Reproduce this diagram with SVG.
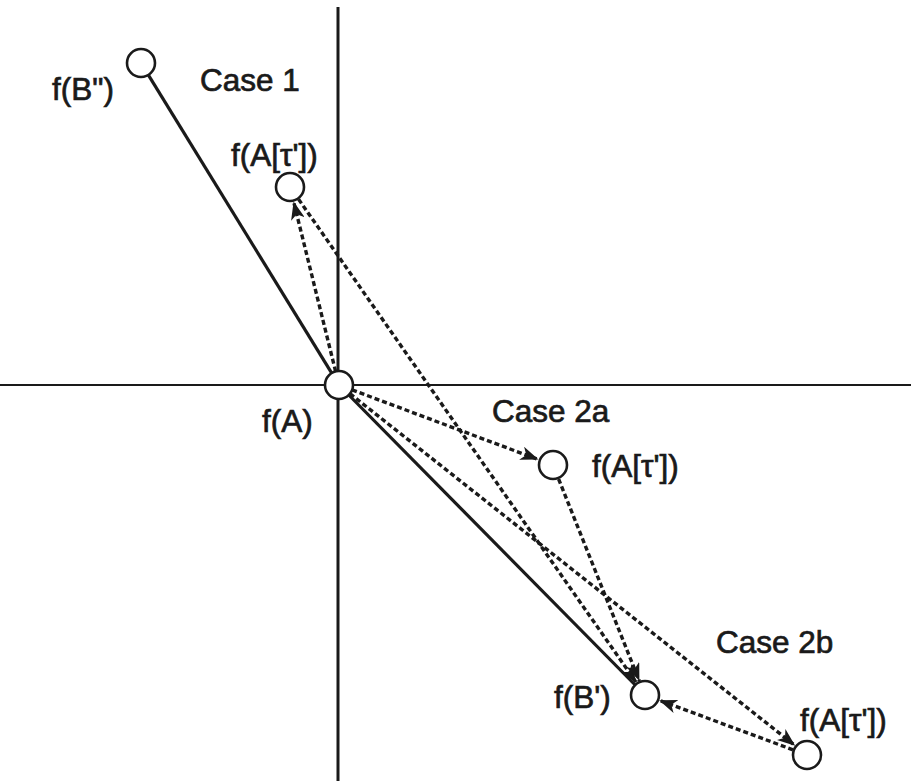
<svg xmlns="http://www.w3.org/2000/svg" width="911" height="781" viewBox="0 0 911 781">
<style>
text{font-family:"Liberation Sans",Arial,sans-serif;font-size:31.5px;fill:#1a1a1a;stroke:#1a1a1a;stroke-width:0.7}
.axis{stroke:#1a1a1a;fill:none}
.solid{stroke:#1a1a1a;stroke-width:3.2;fill:none}
.dash{stroke:#1a1a1a;stroke-width:3.4;stroke-dasharray:5 3;fill:none;marker-end:url(#ah)}
.node{fill:#fff;stroke:#1a1a1a;stroke-width:2.6}
</style>
<defs>
<marker id="ah" markerUnits="userSpaceOnUse" markerWidth="20" markerHeight="14" refX="18" refY="7" orient="auto">
<path d="M0,0 L18,7 L0,14 L5,7 z" fill="#1a1a1a"/>
</marker>
</defs>
<rect width="911" height="781" fill="#fff"/>
<g id="axes">
<line class="axis" x1="338" y1="7" x2="338" y2="781" stroke-width="3"/>
<line class="axis" x1="0" y1="385" x2="911" y2="385" stroke-width="2"/>
</g>
<g id="connectors">
<line class="solid" x1="148.3" y1="74.9" x2="331.7" y2="373.1"/>
<line class="solid" x1="348.8" y1="395" x2="635.2" y2="685"/>
<line class="dash" x1="335.6" y1="371.4" x2="293.6" y2="201.6"/>
<line class="dash" x1="298.6" y1="199.3" x2="636.4" y2="682.7"/>
<line class="dash" x1="352.1" y1="389.9" x2="538.5" y2="459.6"/>
<line class="dash" x1="558.6" y1="479" x2="639.4" y2="681.1"/>
<line class="dash" x1="350" y1="393.7" x2="795.2" y2="745.7"/>
<line class="dash" x1="793" y1="749.8" x2="659.1" y2="700.2"/>
</g>
<g id="node-fBpp"><circle class="node" cx="141" cy="63" r="14"/><text x="52" y="100">f(B")</text></g>
<g id="node-case1"><circle class="node" cx="290" cy="187" r="14"/><text x="231" y="166">f(A[τ'])</text></g>
<g id="node-fA"><circle class="node" cx="339" cy="385" r="14"/><text x="262" y="432">f(A)</text></g>
<g id="node-case2a"><circle class="node" cx="553" cy="465" r="14"/><text x="592" y="477">f(A[τ'])</text></g>
<g id="node-fBp"><circle class="node" cx="645" cy="695" r="14"/><text x="554" y="708">f(B')</text></g>
<g id="node-case2b"><circle class="node" cx="807" cy="755" r="14"/><text x="800" y="731">f(A[τ'])</text></g>
<g id="labels">
<text x="200" y="91">Case 1</text>
<text x="492" y="422">Case 2a</text>
<text x="716" y="653">Case 2b</text>
</g>
</svg>
